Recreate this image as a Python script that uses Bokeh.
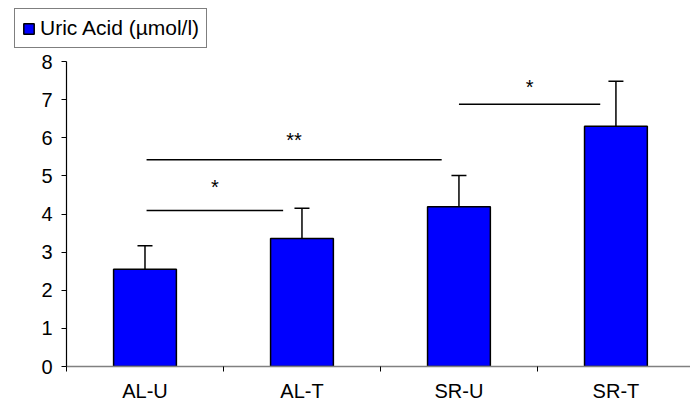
from bokeh.plotting import figure
from bokeh.models import (Range1d, FixedTicker, Legend, LegendItem, Whisker,
                          ColumnDataSource, TeeHead)
from bokeh.core.properties import value
from bokeh.embed import file_html
from bokeh.resources import INLINE

# ---- data ----
categories = ["AL-U", "AL-T", "SR-U", "SR-T"]
means = [2.55, 3.36, 4.19, 6.30]
sd = [0.62, 0.79, 0.82, 1.18]
series_name = "Uric Acid (\u00b5mol/l)"
y_ticks = [0, 1, 2, 3, 4, 5, 6, 7, 8]

# significance bars
sig_x0 = [0.51, 0.51, 2.50]
sig_x1 = [1.38, 2.39, 3.40]
sig_y = [4.09, 5.42, 6.88]
sig_label = ["*", "**", "*"]
sig_text_y = [4.72, 5.95, 7.33]

FONT = "Liberation Sans"
BLUE = "#0000FF"

xc = [i + 0.5 for i in range(len(categories))]
src = ColumnDataSource(dict(x=xc, top=means, upper=[m + s for m, s in zip(means, sd)],
                            cat=categories))

p = figure(width=690, height=352, output_backend="svg", toolbar_location=None,
           x_range=Range1d(0, 3.975), y_range=Range1d(0, 8),
           min_border_left=66, min_border_top=9, min_border_bottom=33, min_border_right=0)
p.outline_line_color = None
p.xgrid.visible = False
p.ygrid.visible = False
p.background_fill_color = "white"
p.border_fill_color = "white"

bars = p.vbar(x="x", top="top", bottom=0, width=0.4, source=src,
              fill_color=BLUE, line_color="black", line_width=1.5)

wh = Whisker(base="x", lower="top", upper="upper", source=src,
             line_color="black", line_width=1.5,
             upper_head=TeeHead(size=15, line_color="black", line_width=1.5),
             lower_head=None)
p.add_layout(wh)

sig_src = ColumnDataSource(dict(x0=sig_x0, x1=sig_x1, y=sig_y,
                                tx=[(a + b) / 2 for a, b in zip(sig_x0, sig_x1)],
                                ty=sig_text_y, lab=sig_label))
p.segment(x0="x0", y0="y", x1="x1", y1="y", source=sig_src, line_color="black", line_width=1.5)
p.text(x="tx", y="ty", text="lab", source=sig_src, text_align="center",
       text_baseline="middle", text_font=value(FONT), text_font_size="20px",
       text_color="black")

# axes
p.xaxis.ticker = FixedTicker(ticks=xc, minor_ticks=list(range(len(categories) + 1)))
p.xaxis.major_label_overrides = {x: c for x, c in zip(xc, categories)}
p.xaxis.major_tick_line_color = None
p.xaxis.major_tick_in = 0
p.xaxis.major_tick_out = 0
p.xaxis.minor_tick_in = 0
p.xaxis.minor_tick_out = 5
p.xaxis.minor_tick_line_color = "black"
p.xaxis.axis_line_color = "#808080"
p.xaxis.axis_line_width = 1.5
p.xaxis.major_label_text_font = FONT
p.xaxis.major_label_text_font_size = "20px"
p.xaxis.major_label_text_color = "black"
p.xaxis.major_label_standoff = 8

p.yaxis.ticker = FixedTicker(ticks=y_ticks)
p.yaxis.minor_tick_line_color = None
p.yaxis.major_tick_in = 0
p.yaxis.major_tick_out = 5
p.yaxis.major_tick_line_color = "black"
p.yaxis.axis_line_color = "black"
p.yaxis.axis_line_width = 1.2
p.yaxis.major_label_text_font = FONT
p.yaxis.major_label_text_font_size = "20px"
p.yaxis.major_label_text_color = "black"
p.yaxis.major_label_standoff = 9

# legend strip above the chart (its bar renderer is hidden; only the key is drawn)
lg = figure(width=690, height=52, output_backend="svg", toolbar_location=None,
            x_range=Range1d(0, 1), y_range=Range1d(0, 1),
            x_axis_location=None, y_axis_location=None,
            min_border=0)
lg.outline_line_color = None
lg.xgrid.visible = False
lg.ygrid.visible = False
proxy = lg.vbar(x="x", top="top", bottom=0, width=0.4, source=src,
                fill_color=BLUE, line_color="black", line_width=1.5)
proxy.visible = False
legend = Legend(items=[LegendItem(label=series_name, renderers=[proxy])],
                location=(14, 4), orientation="vertical",
                border_line_color="black", border_line_width=1,
                background_fill_color="white", background_fill_alpha=1,
                padding=7, margin=0, spacing=0,
                glyph_width=13, glyph_height=13, label_standoff=5,
                label_text_font=FONT, label_text_font_size="21px",
                label_text_color="black")
lg.add_layout(legend)

open("out.html", "w").write(file_html([lg, p], INLINE))
